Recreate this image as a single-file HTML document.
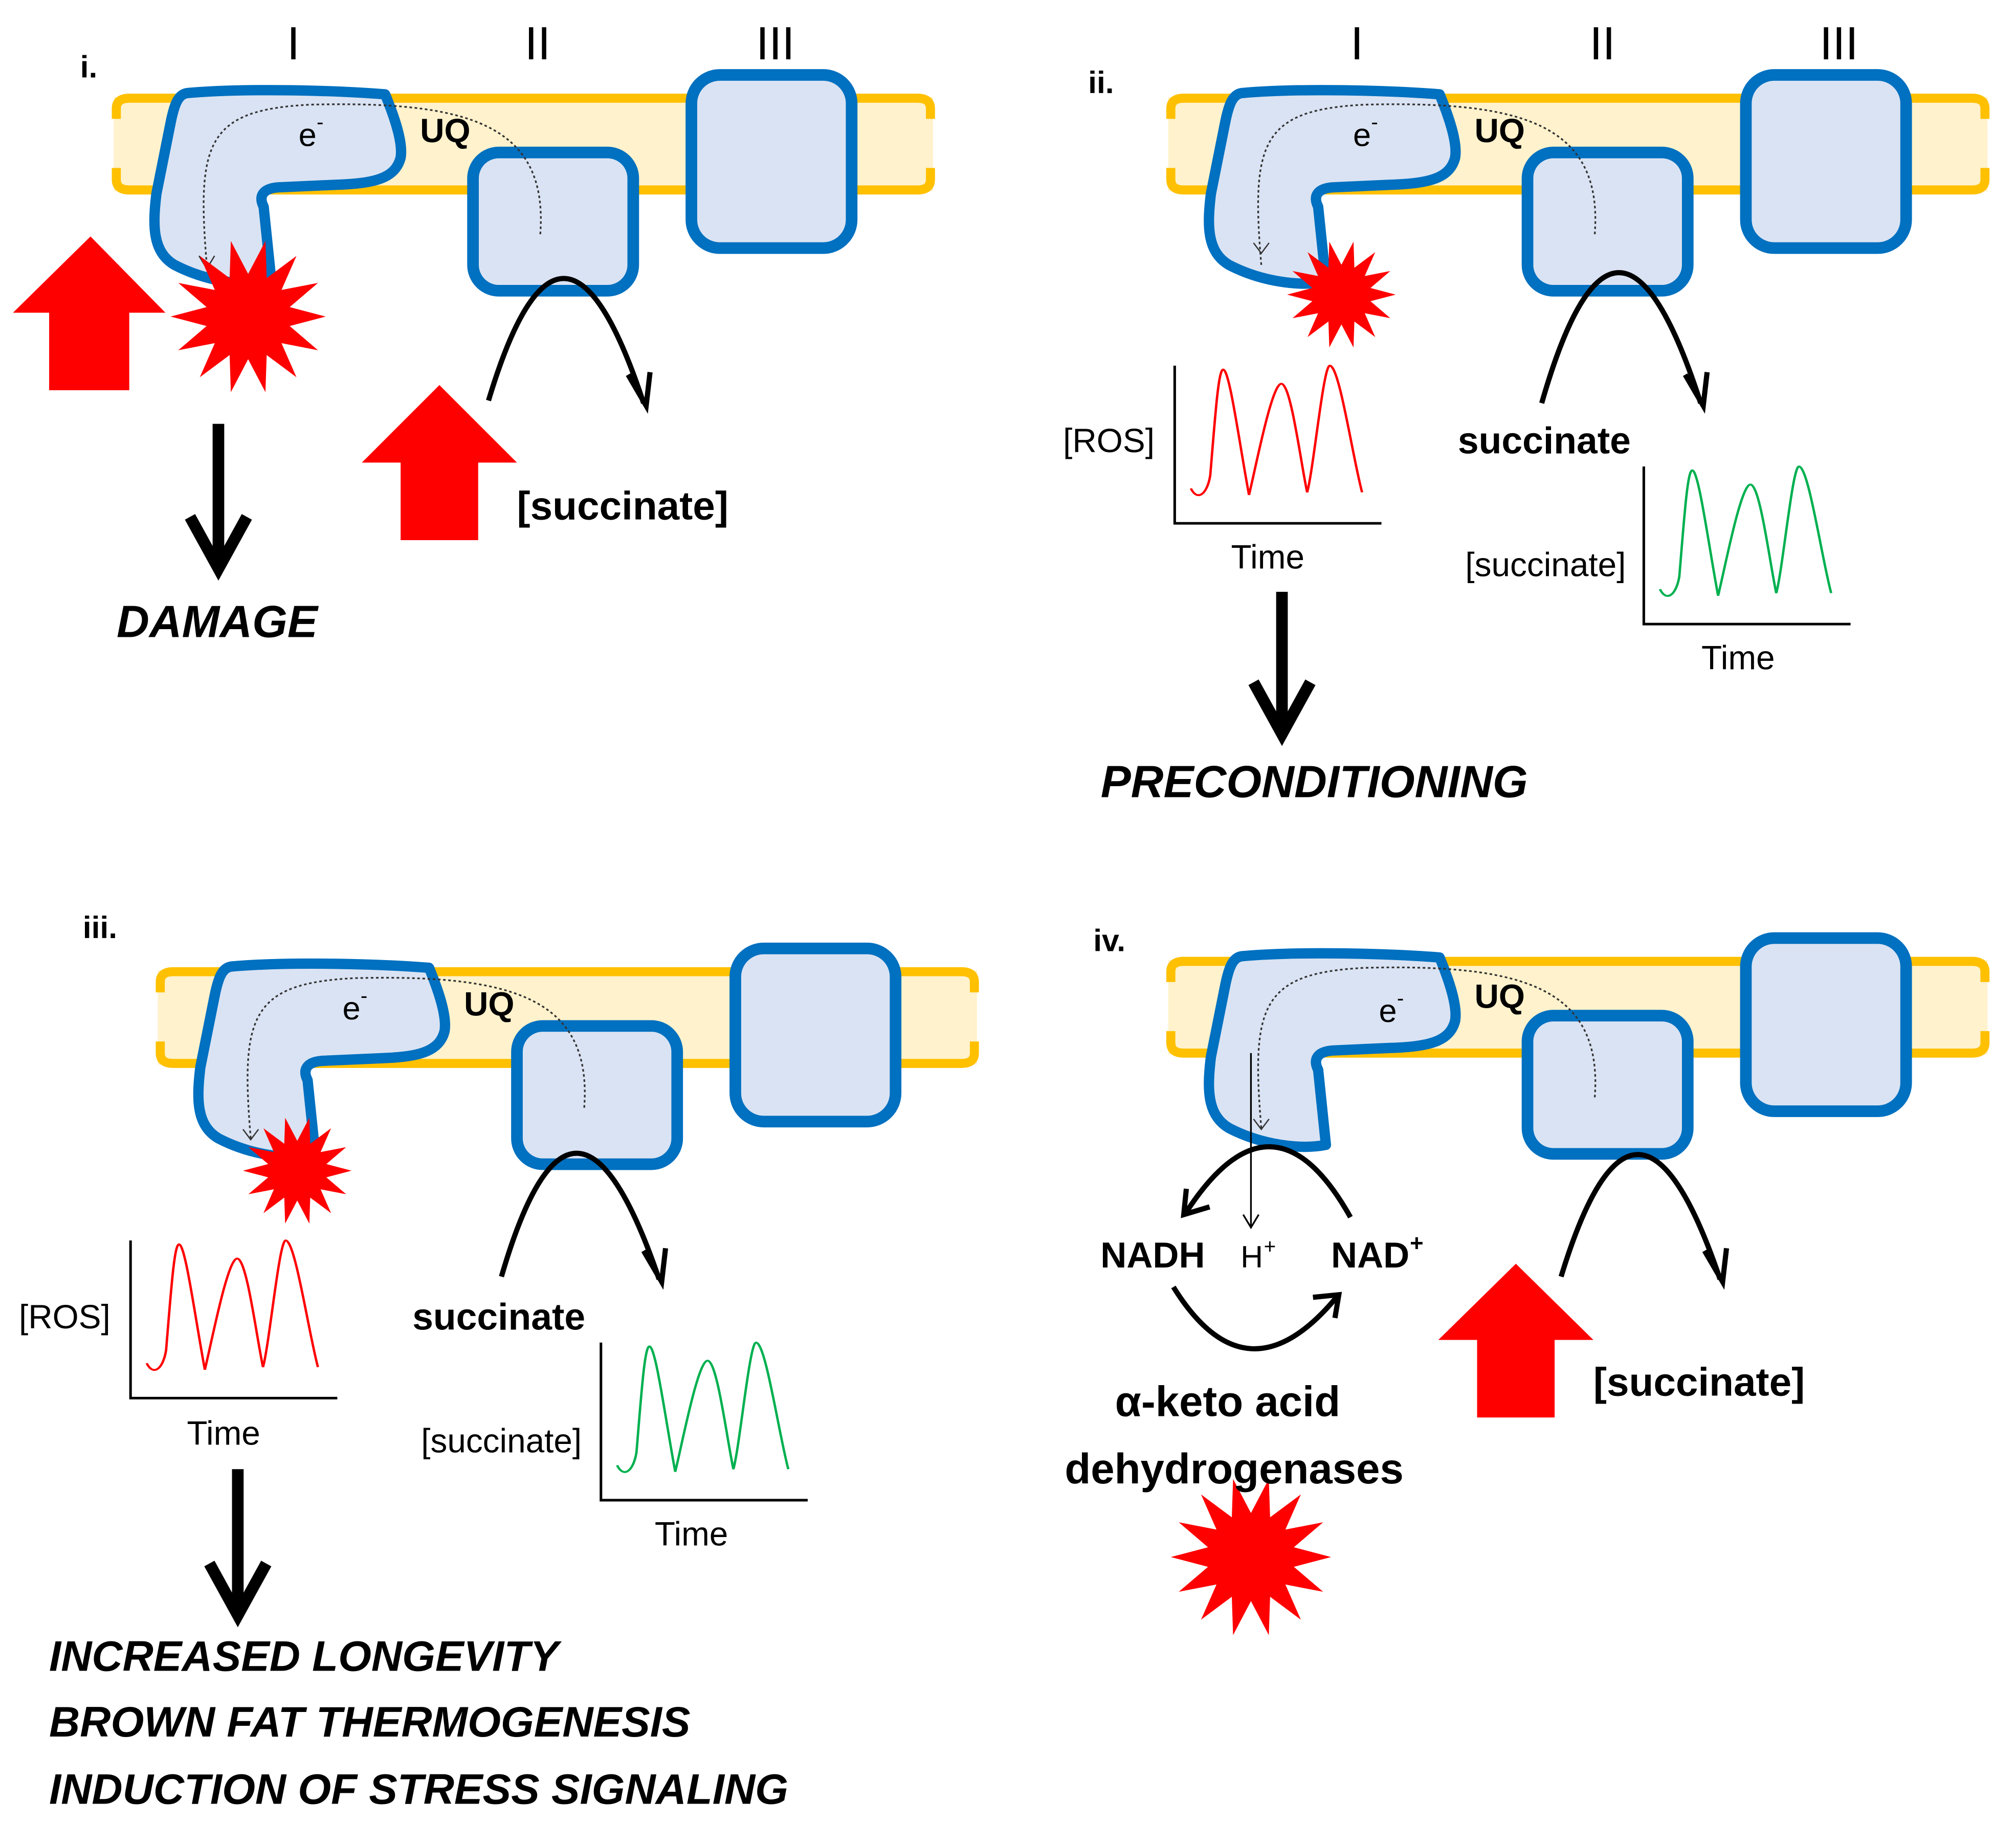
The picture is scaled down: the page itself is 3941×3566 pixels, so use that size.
<!DOCTYPE html>
<html><head><meta charset="utf-8"><style>
html,body{margin:0;padding:0;background:#fff;}
svg{display:block;}
text{font-family:"Liberation Sans","DejaVu Sans",sans-serif;}
</style></head><body>
<svg width="3941" height="3566" viewBox="0 0 1560 1411.6" xmlns="http://www.w3.org/2000/svg">
<defs>
<g id="mem">
<rect x="88" y="75" width="634" height="73" fill="#fff2cc"/>
<path d="M90,92 V84 Q90,76 100,76 H710 Q720,76 720,84 V92" fill="none" stroke="#ffc000" stroke-width="7"/>
<path d="M90,130 V139 Q90,147 100,147 H710 Q720,147 720,139 V130" fill="none" stroke="#ffc000" stroke-width="7"/>
</g>
<g id="c1">
<path d="M145,72 C190,68 260,70 298,73 C305,90 312,110 310,122 C306,138 290,142 260,143 L215,145 C203,146 200,152 204,160 L210,218 C190,222 160,218 135,205 C118,195 118,175 121,150 L132,95 C135,80 138,73 145,72 Z" fill="#dae3f3" stroke="#0070c0" stroke-width="8" stroke-linejoin="round"/>
</g>
<g id="c23">
<rect x="366" y="118" width="124" height="107" rx="20" fill="#dae3f3" stroke="#0070c0" stroke-width="9"/>
<rect x="535" y="58" width="124" height="134" rx="22" fill="#dae3f3" stroke="#0070c0" stroke-width="9"/>
</g>
<path id="dot" d="M160,205 C152,110 160,85 240,81 C360,78 425,95 418,182" fill="none" stroke="#333" stroke-width="1.3" stroke-dasharray="2,2"/>
<polygon id="star" points="1,0 0.536,0.122 0.901,0.434 0.43,0.343 0.623,0.782 0.239,0.496 0.223,0.975 0,0.55 -0.223,0.975 -0.239,0.496 -0.623,0.782 -0.43,0.343 -0.901,0.434 -0.536,0.122 -1,0 -0.536,-0.122 -0.901,-0.434 -0.43,-0.343 -0.623,-0.782 -0.239,-0.496 -0.223,-0.975 0,-0.55 0.223,-0.975 0.239,-0.496 0.623,-0.782 0.43,-0.343 0.901,-0.434 0.536,-0.122" fill="#ff0000"/>
<path id="wave" d="M10,95 C14,105 20,100 22,85 C25,40 27,3 30,3 C34,3 40,60 46,100 C50,80 60,14 66,14 C72,14 78,75 82,98 C86,80 92,0 96,0 C102,0 110,70 116,98" fill="none" stroke-width="1.5" transform="scale(1.25,1)"/>
<g id="axes"><path d="M0,0 V122 H160" fill="none" stroke="#000" stroke-width="2"/></g>
</defs>

<!-- Panel i -->
<use href="#mem"/>
<use href="#c23"/>
<use href="#c1"/>
<use href="#dot"/>
<path d="M154,198 L160,208 L166,198" fill="none" stroke="#333" stroke-width="1"/>
<text x="231" y="113" font-size="25">e</text><text x="245" y="100" font-size="16">-</text>
<text x="325" y="110" font-size="26" font-weight="bold">UQ</text>
<text x="227" y="46" font-size="36" text-anchor="middle">I</text>
<text x="416" y="46" font-size="36" text-anchor="middle">II</text>
<text x="600" y="46" font-size="36" text-anchor="middle">III</text>
<text x="62" y="60" font-size="24" font-weight="bold">i.</text>
<use href="#star" transform="translate(192,245) scale(60)"/>
<polygon points="70,183 128,242 100,242 100,302 38,302 38,242 10,242" fill="#ff0000"/>
<polygon points="340,298 400,358 370,358 370,418 310,418 310,358 280,358" fill="#ff0000"/>
<path d="M378,310 Q435,120 498,312" fill="none" stroke="#000" stroke-width="4"/>
<path d="M486,290 L500,314 L503,288" fill="none" stroke="#000" stroke-width="4"/>
<line x1="169" y1="328" x2="169" y2="438" stroke="#000" stroke-width="9"/>
<path d="M147,400 L169,440 L191,400" fill="none" stroke="#000" stroke-width="9"/>
<text x="400" y="402" font-size="31" font-weight="bold">[succinate]</text>
<text x="168" y="493" font-size="35" font-weight="bold" font-style="italic" text-anchor="middle">DAMAGE</text>

<!-- Panel ii -->
<g transform="translate(816,0)">
<use href="#mem"/>
<use href="#c23"/>
<use href="#c1"/>
<use href="#dot"/>
<path d="M154,188 L160,196 L166,188" fill="none" stroke="#333" stroke-width="1"/>
<text x="231" y="113" font-size="25">e</text><text x="245" y="100" font-size="16">-</text>
<text x="325" y="110" font-size="26" font-weight="bold">UQ</text>
<text x="234" y="46" font-size="36" text-anchor="middle">I</text>
<text x="424" y="46" font-size="36" text-anchor="middle">II</text>
<text x="607" y="46" font-size="36" text-anchor="middle">III</text>
<text x="26" y="72" font-size="24" font-weight="bold">ii.</text>
<use href="#star" transform="translate(222,228) scale(42)"/>
<path d="M377,312 Q435,110 500,312" fill="none" stroke="#000" stroke-width="4"/>
<path d="M488,290 L502,314 L505,288" fill="none" stroke="#000" stroke-width="4"/>
</g>
<use href="#axes" transform="translate(909,283)"/>
<use href="#wave" transform="translate(909,283)" stroke="#ff0000"/>
<text x="858" y="350" font-size="26" text-anchor="middle">[ROS]</text>
<text x="981" y="440" font-size="26" text-anchor="middle">Time</text>
<text x="1195" y="351" font-size="29" font-weight="bold" text-anchor="middle">succinate</text>
<use href="#axes" transform="translate(1272,361)"/>
<use href="#wave" transform="translate(1272,361)" stroke="#00b050"/>
<text x="1196" y="446" font-size="26" text-anchor="middle">[succinate]</text>
<text x="1345" y="518" font-size="26" text-anchor="middle">Time</text>
<line x1="992" y1="458" x2="992" y2="565" stroke="#000" stroke-width="9"/>
<path d="M970,528 L992,568 L1014,528" fill="none" stroke="#000" stroke-width="9"/>
<text x="1017" y="617" font-size="35" font-weight="bold" font-style="italic" text-anchor="middle">PRECONDITIONING</text>

<!-- Panel iii -->
<g transform="translate(34,676)">
<use href="#mem"/>
<use href="#c23"/>
<use href="#c1"/>
<use href="#dot"/>
<path d="M154,198 L160,206 L166,198" fill="none" stroke="#333" stroke-width="1"/>
<text x="231" y="113" font-size="25">e</text><text x="245" y="100" font-size="16">-</text>
<text x="325" y="110" font-size="26" font-weight="bold">UQ</text>
<use href="#star" transform="translate(196,230) scale(42)"/>
<path d="M354,312 Q410,120 476,314" fill="none" stroke="#000" stroke-width="4"/>
<path d="M464,292 L478,316 L481,290" fill="none" stroke="#000" stroke-width="4"/>
</g>
<text x="64" y="726" font-size="24" font-weight="bold">iii.</text>
<use href="#axes" transform="translate(101,960)"/>
<use href="#wave" transform="translate(101,960)" stroke="#ff0000"/>
<text x="50" y="1028" font-size="26" text-anchor="middle">[ROS]</text>
<text x="173" y="1118" font-size="26" text-anchor="middle">Time</text>
<text x="386" y="1029" font-size="29" font-weight="bold" text-anchor="middle">succinate</text>
<use href="#axes" transform="translate(465,1039)"/>
<use href="#wave" transform="translate(465,1039)" stroke="#00b050"/>
<text x="388" y="1124" font-size="26" text-anchor="middle">[succinate]</text>
<text x="535" y="1196" font-size="26" text-anchor="middle">Time</text>
<line x1="184" y1="1137" x2="184" y2="1245" stroke="#000" stroke-width="9"/>
<path d="M162,1210 L184,1250 L206,1210" fill="none" stroke="#000" stroke-width="9"/>
<g font-size="33" font-weight="bold" font-style="italic">
<text x="38" y="1293">INCREASED LONGEVITY</text>
<text x="38" y="1344">BROWN FAT THERMOGENESIS</text>
<text x="38" y="1396">INDUCTION OF STRESS SIGNALING</text>
</g>

<!-- Panel iv -->
<g transform="translate(816,668)">
<use href="#mem"/>
<use href="#c23"/>
<use href="#c1"/>
<use href="#dot"/>
<path d="M154,198 L160,206 L166,198" fill="none" stroke="#333" stroke-width="1"/>
<text x="251" y="123" font-size="25">e</text><text x="265" y="110" font-size="16">-</text>
<text x="325" y="112" font-size="26" font-weight="bold">UQ</text>
<path d="M392,320 Q450,130 515,322" fill="none" stroke="#000" stroke-width="4"/>
<path d="M503,300 L517,324 L520,298" fill="none" stroke="#000" stroke-width="4"/>
</g>
<text x="846" y="736" font-size="24" font-weight="bold">iv.</text>
<line x1="968" y1="815" x2="968" y2="950" stroke="#000" stroke-width="1.3"/>
<path d="M962,940 L968,950 L974,940" fill="none" stroke="#000" stroke-width="1.3"/>
<path d="M1045,942 Q985,835 918,938" fill="none" stroke="#000" stroke-width="4"/>
<path d="M918,920 L916,940 L936,934" fill="none" stroke="#000" stroke-width="4"/>
<path d="M908,996 Q965,1088 1035,1003" fill="none" stroke="#000" stroke-width="4"/>
<path d="M1016,1004 L1036,1002 L1033,1020" fill="none" stroke="#000" stroke-width="4"/>
<text x="892" y="981" font-size="28" font-weight="bold" text-anchor="middle">NADH</text>
<text x="960" y="981" font-size="24">H</text><text x="978" y="970" font-size="16">+</text>
<text x="1030" y="981" font-size="28" font-weight="bold">NAD</text><text x="1091" y="968" font-size="18" font-weight="bold">+</text>
<text x="950" y="1096" font-size="33" font-weight="bold" text-anchor="middle">α-keto acid</text>
<use href="#star" transform="translate(968,1205) scale(62)"/>
<text x="955" y="1148" font-size="33" font-weight="bold" text-anchor="middle">dehydrogenases</text>
<polygon points="1173,978 1233,1037 1203,1037 1203,1097 1143,1097 1143,1037 1113,1037" fill="#ff0000"/>
<text x="1233" y="1080" font-size="31" font-weight="bold">[succinate]</text>
</svg>
</body></html>
